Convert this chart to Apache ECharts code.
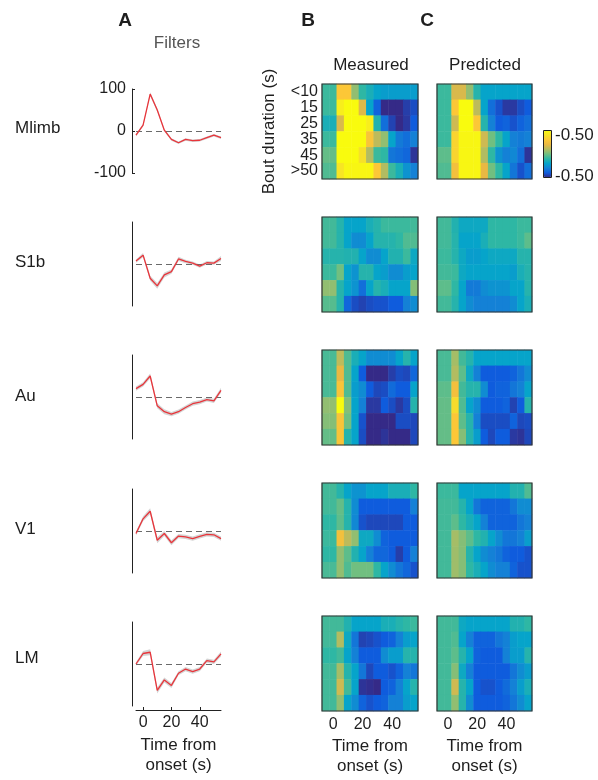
<!DOCTYPE html>
<html><head><meta charset="utf-8">
<script src="https://cdn.jsdelivr.net/npm/echarts@6/dist/echarts.min.js"></script>
<style>html,body{margin:0;padding:0;background:#fff}#c{width:598px;height:780px}</style>
</head><body><div id="c"></div>
<script>
// ---------------- DATA ----------------
const regions = ['Mlimb', 'S1b', 'Au', 'V1', 'LM'];
const filterTimes = ['-5', '0', '5', '10', '15', '20', '25', '30', '35', '40', '45', '50', '55'];
const timeTicks = [0, 20, 40];
const boutLabels = ['<10', '15', '25', '35', '45', '>50'];
const binLabels = ['-5', '0', '5', '10', '15', '20', '25', '30', '35', '40', '45', '50', '55'];
const colorbarLabels = ['-0.50', '-0.50'];

const mlimbFilter = [-10, 14, 88, 50, 2, -20, -28, -20, -23, -22, -16, -10, -16];
const s1bFilter   = [7, 21, -34, -52, -26, -18, 12, 6, 2, -5, 3, 2, 13];
const auFilter    = [20, 30, 50, -21, -35, -41, -35, -25, -16, -12, -6, -9, 16];
const v1Filter    = [-6, 29, 47, -22, -6, -28, -12, -14, -18, -13, -8, -9, -18];
const lmFilter    = [0, 25, 28, -63, -38, -51, -22, -12, -18, -12, 8, 5, 24];

const mlimbSem = [3, 3, 4, 4, 3, 3, 3, 3, 3, 3, 3, 3, 3];
const s1bSem   = [4, 5, 6, 7, 6, 5, 5, 4, 4, 4, 4, 4, 6];
const auSem    = [5, 5, 6, 6, 6, 5, 5, 5, 5, 5, 5, 5, 6];
const v1Sem    = [5, 6, 7, 7, 6, 6, 5, 5, 5, 5, 5, 5, 5];
const lmSem    = [4, 6, 7, 7, 6, 6, 5, 5, 5, 5, 5, 5, 6];

const mlimbMeasured = [
  [-0.08,-0.08,0.3,0.3,0.05,-0.1,-0.15,-0.2,-0.22,-0.22,-0.22,-0.22,-0.22],
  [-0.08,-0.08,0.45,0.5,0.5,0.18,-0.2,-0.38,-0.5,-0.5,-0.5,-0.46,-0.43],
  [-0.15,-0.15,0.17,0.5,0.5,0.5,0.45,-0.13,-0.35,-0.45,-0.5,-0.47,-0.4],
  [-0.08,-0.08,0.5,0.5,0.5,0.5,0.28,0.12,0.05,-0.2,-0.32,-0.35,-0.3],
  [-0.02,-0.02,0.5,0.5,0.5,0.4,0.1,-0.08,-0.1,-0.33,-0.35,-0.37,-0.48],
  [-0.05,-0.05,0.42,0.48,0.48,0.48,0.48,0.3,0.1,-0.08,-0.15,-0.25,-0.3]
];
const mlimbPredicted = [
  [-0.08,-0.08,0.17,0.17,0.05,-0.12,-0.2,-0.2,-0.2,-0.2,-0.2,-0.2,-0.2],
  [-0.08,-0.08,0.3,0.5,0.5,0.12,-0.2,-0.35,-0.42,-0.47,-0.47,-0.43,-0.4],
  [-0.08,-0.08,0.15,0.5,0.5,0.3,-0.12,-0.3,-0.4,-0.38,-0.42,-0.38,-0.35],
  [-0.08,-0.08,0.35,0.48,0.48,0.48,0.15,0.0,-0.1,-0.2,-0.3,-0.32,-0.3],
  [-0.03,-0.03,0.35,0.48,0.48,0.48,0.1,-0.1,-0.25,-0.3,-0.28,-0.35,-0.48],
  [-0.05,-0.05,0.25,0.48,0.48,0.48,0.2,0.0,-0.1,-0.2,-0.33,-0.42,-0.35]
];
const s1bMeasured = [
  [-0.07,-0.07,-0.12,-0.2,-0.2,-0.2,-0.15,-0.12,-0.08,-0.08,-0.08,-0.08,-0.07],
  [-0.07,-0.07,-0.12,-0.2,-0.27,-0.27,-0.2,-0.12,-0.12,-0.12,-0.1,-0.05,-0.05],
  [-0.12,-0.12,-0.12,-0.13,-0.13,-0.2,-0.27,-0.27,-0.2,-0.13,-0.13,-0.08,-0.18],
  [-0.08,-0.08,0.0,-0.2,-0.25,-0.12,-0.12,-0.2,-0.22,-0.27,-0.27,-0.22,-0.2],
  [0.05,0.05,-0.12,-0.2,-0.25,-0.35,-0.2,-0.12,-0.15,-0.2,-0.2,-0.2,0.03],
  [-0.04,-0.04,-0.12,-0.37,-0.43,-0.45,-0.43,-0.42,-0.42,-0.4,-0.4,-0.3,-0.27]
];
const s1bPredicted = [
  [-0.07,-0.07,-0.13,-0.18,-0.18,-0.18,-0.18,-0.1,-0.1,-0.1,-0.1,-0.08,-0.08],
  [-0.07,-0.07,-0.12,-0.2,-0.2,-0.2,-0.15,-0.1,-0.1,-0.1,-0.1,-0.08,-0.03],
  [-0.08,-0.08,-0.12,-0.18,-0.22,-0.22,-0.2,-0.18,-0.18,-0.18,-0.18,-0.12,-0.12],
  [-0.07,-0.07,-0.08,-0.18,-0.2,-0.2,-0.2,-0.2,-0.2,-0.2,-0.22,-0.15,-0.12],
  [-0.03,-0.03,-0.1,-0.2,-0.32,-0.32,-0.27,-0.25,-0.25,-0.25,-0.2,-0.2,-0.12],
  [-0.07,-0.07,-0.12,-0.2,-0.27,-0.3,-0.3,-0.3,-0.3,-0.3,-0.27,-0.2,-0.15]
];
const auMeasured = [
  [-0.06,-0.06,0.12,-0.05,-0.15,-0.2,-0.27,-0.27,-0.27,-0.27,-0.2,-0.12,-0.2],
  [-0.06,-0.06,0.2,-0.05,-0.2,-0.4,-0.5,-0.5,-0.5,-0.46,-0.43,-0.44,-0.37],
  [-0.06,-0.06,0.28,-0.05,-0.22,-0.27,-0.4,-0.44,-0.43,-0.36,-0.4,-0.4,-0.2],
  [0.05,0.05,0.5,0.03,-0.2,-0.3,-0.47,-0.47,-0.4,-0.43,-0.47,-0.43,-0.12],
  [0.03,0.03,0.28,0.0,-0.2,-0.42,-0.5,-0.5,-0.5,-0.5,-0.43,-0.43,-0.44],
  [-0.02,-0.02,0.28,-0.12,-0.2,-0.43,-0.5,-0.5,-0.48,-0.5,-0.5,-0.5,-0.44]
];
const auPredicted = [
  [-0.06,-0.06,0.08,-0.07,-0.12,-0.2,-0.2,-0.2,-0.2,-0.2,-0.2,-0.2,-0.2],
  [-0.06,-0.06,0.1,-0.03,-0.18,-0.3,-0.4,-0.4,-0.4,-0.4,-0.38,-0.33,-0.27],
  [-0.03,-0.03,0.25,-0.07,-0.12,-0.12,-0.27,-0.4,-0.38,-0.38,-0.33,-0.3,-0.2],
  [-0.02,-0.02,0.38,-0.05,-0.2,-0.27,-0.4,-0.4,-0.4,-0.38,-0.45,-0.4,-0.12],
  [-0.02,-0.02,0.3,-0.03,-0.12,-0.3,-0.43,-0.43,-0.43,-0.43,-0.38,-0.44,-0.43],
  [-0.02,-0.02,0.3,0.03,-0.12,-0.22,-0.4,-0.44,-0.4,-0.4,-0.47,-0.48,-0.44]
];
const v1Measured = [
  [-0.07,-0.07,-0.12,-0.2,-0.25,-0.25,-0.2,-0.2,-0.2,-0.15,-0.15,-0.15,-0.1],
  [-0.07,-0.07,-0.02,-0.12,-0.27,-0.4,-0.4,-0.4,-0.4,-0.4,-0.4,-0.4,-0.3],
  [-0.1,-0.1,-0.03,-0.12,-0.28,-0.42,-0.44,-0.44,-0.44,-0.44,-0.44,-0.4,-0.4],
  [-0.08,-0.08,0.25,0.12,0.05,-0.18,-0.18,-0.27,-0.38,-0.4,-0.4,-0.4,-0.4],
  [-0.1,-0.1,0.05,-0.03,-0.13,-0.2,-0.3,-0.37,-0.37,-0.4,-0.46,-0.4,-0.3],
  [-0.06,-0.06,0.05,-0.05,0.0,0.0,0.0,-0.1,-0.2,-0.27,-0.33,-0.37,-0.42]
];
const v1Predicted = [
  [-0.08,-0.08,-0.08,-0.2,-0.2,-0.2,-0.2,-0.2,-0.2,-0.2,-0.13,-0.13,-0.05],
  [-0.07,-0.07,-0.07,-0.12,-0.2,-0.33,-0.38,-0.38,-0.38,-0.38,-0.33,-0.27,-0.27],
  [-0.07,-0.07,-0.03,-0.1,-0.15,-0.2,-0.3,-0.38,-0.38,-0.38,-0.38,-0.33,-0.3],
  [-0.07,-0.07,0.08,0.03,-0.03,-0.1,-0.13,-0.2,-0.27,-0.33,-0.33,-0.3,-0.22],
  [-0.07,-0.07,0.07,0.03,-0.12,-0.2,-0.27,-0.3,-0.33,-0.38,-0.4,-0.4,-0.42],
  [-0.07,-0.07,0.07,0.03,-0.1,-0.15,-0.2,-0.27,-0.3,-0.3,-0.38,-0.42,-0.42]
];
const lmMeasured = [
  [-0.07,-0.07,-0.07,-0.13,-0.2,-0.2,-0.2,-0.2,-0.15,-0.15,-0.12,-0.1,-0.08],
  [-0.07,-0.07,0.1,-0.18,-0.33,-0.45,-0.44,-0.42,-0.4,-0.38,-0.3,-0.22,-0.2],
  [-0.1,-0.1,-0.07,-0.2,-0.3,-0.4,-0.4,-0.4,-0.27,-0.22,-0.22,-0.12,-0.12],
  [-0.07,-0.07,0.08,-0.12,-0.2,-0.33,-0.44,-0.4,-0.4,-0.42,-0.38,-0.3,-0.33],
  [-0.07,-0.07,0.15,-0.07,-0.2,-0.48,-0.49,-0.5,-0.4,-0.38,-0.3,-0.2,-0.12],
  [-0.07,-0.07,0.05,-0.2,-0.27,-0.38,-0.42,-0.4,-0.38,-0.3,-0.3,-0.22,-0.2]
];
const lmPredicted = [
  [-0.07,-0.07,-0.07,-0.18,-0.2,-0.2,-0.2,-0.2,-0.2,-0.2,-0.13,-0.13,-0.1],
  [-0.07,-0.07,-0.05,-0.2,-0.3,-0.38,-0.38,-0.38,-0.33,-0.3,-0.22,-0.2,-0.2],
  [-0.07,-0.07,-0.03,-0.12,-0.2,-0.38,-0.4,-0.4,-0.4,-0.3,-0.22,-0.22,-0.12],
  [-0.07,-0.07,0.03,-0.18,-0.3,-0.4,-0.4,-0.4,-0.4,-0.4,-0.33,-0.27,-0.22],
  [-0.07,-0.07,0.15,-0.12,-0.2,-0.4,-0.42,-0.42,-0.4,-0.36,-0.3,-0.22,-0.15],
  [-0.07,-0.07,0.05,-0.12,-0.27,-0.4,-0.4,-0.4,-0.4,-0.38,-0.33,-0.27,-0.2]
];

// ---------------- BUILD ----------------
const FONT = "'Liberation Sans', Arial, Helvetica, sans-serif";
const TXT = '#1e1e1e';
const parula = ['#352A87','#0F5CDD','#1481D6','#06A4CA','#2EB7A4','#71BF80','#B2BC61','#E9B843','#FCC737','#F6E029','#F9FB0E'];
const filters = [mlimbFilter, s1bFilter, auFilter, v1Filter, lmFilter];
const sems = [mlimbSem, s1bSem, auSem, v1Sem, lmSem];
const measured = [mlimbMeasured, s1bMeasured, auMeasured, v1Measured, lmMeasured];
const predicted = [mlimbPredicted, s1bPredicted, auPredicted, v1Predicted, lmPredicted];

const lineTops = [89, 222, 355, 489, 622];
const heatTops = [84, 217, 350, 483, 616];
const labelY = [128, 262, 396, 529, 658];

const grids = [], xAxes = [], yAxes = [], series = [], heatIdx = [];
const isTick = (idx, val) => timeTicks.indexOf(+val) >= 0;

for (let i = 0; i < 5; i++) {
  const first = i === 0, last = i === 4;
  const g = grids.length;
  grids.push({ left: 136, top: lineTops[i], width: 85, height: 84 });
  xAxes.push({
    type: 'category', gridIndex: g, data: filterTimes, boundaryGap: false, show: last, offset: 4,
    axisLine: { show: true, onZero: false, lineStyle: { color: '#222', width: 1 } },
    axisTick: { show: true, inside: true, length: 3, interval: isTick, alignWithLabel: true, lineStyle: { color: '#222' } },
    axisLabel: { interval: isTick, fontSize: 16, color: TXT, fontFamily: FONT, margin: 5 },
    splitLine: { show: false },
    name: last ? 'Time from\nonset (s)' : '', nameLocation: 'middle', nameGap: 25,
    nameTextStyle: { fontSize: 17, color: TXT, fontFamily: FONT, lineHeight: 20 }
  });
  yAxes.push({
    type: 'value', gridIndex: g, min: -100, max: 100, interval: 100, offset: 4,
    axisLine: { show: true, onZero: false, lineStyle: { color: '#222', width: 1 } },
    axisTick: { show: first, inside: true, length: 3, lineStyle: { color: '#222' } },
    axisLabel: { show: first, fontSize: 16, color: TXT, fontFamily: FONT, margin: 6 },
    splitLine: { show: false }
  });
  const f = filters[i], s = sems[i];
  series.push({
    type: 'line', xAxisIndex: g, yAxisIndex: g, stack: 'band' + i, stackStrategy: 'all',
    data: f.map((v, k) => v - s[k]), symbol: 'none', silent: true,
    lineStyle: { opacity: 0 }, z: 1
  });
  series.push({
    type: 'line', xAxisIndex: g, yAxisIndex: g, stack: 'band' + i, stackStrategy: 'all',
    data: s.map(v => 2 * v), symbol: 'none', silent: true,
    lineStyle: { opacity: 0 }, areaStyle: { color: '#d4d4d4', opacity: 1 }, z: 1
  });
  series.push({
    type: 'line', xAxisIndex: g, yAxisIndex: g, name: regions[i],
    data: f, symbol: 'none', silent: true,
    lineStyle: { color: '#e8353b', width: 1.3 }, z: 3,
    markLine: {
      silent: true, symbol: ['none', 'none'], label: { show: false },
      lineStyle: { color: '#6a6a6a', width: 1, type: [6, 4] },
      data: [{ yAxis: 0 }], z: 2
    }
  });

  [[322, 96, measured[i]], [437, 95, predicted[i]]].forEach(([left, w, mat], j) => {
    const hg = grids.length;
    const topLeft = first && j === 0;
    grids.push({ left: left, top: heatTops[i], width: w, height: 95, show: true, z: 10,
      borderColor: '#333', borderWidth: 1.2, backgroundColor: 'rgba(0,0,0,0)' });
    xAxes.push({
      type: 'category', gridIndex: hg, data: binLabels, show: last,
      axisLine: { show: false, onZero: false },
      axisTick: { show: true, inside: true, length: 3, alignWithLabel: true, interval: isTick, lineStyle: { color: '#333' } },
      axisLabel: { interval: isTick, fontSize: 16, color: TXT, fontFamily: FONT, margin: 6 },
      name: last ? 'Time from\nonset (s)' : '', nameLocation: 'middle', nameGap: 25,
      nameTextStyle: { fontSize: 17, color: TXT, fontFamily: FONT, lineHeight: 20 }
    });
    yAxes.push({
      type: 'category', gridIndex: hg, data: boutLabels, inverse: true,
      axisLine: { show: false, onZero: false },
      axisTick: { show: true, inside: true, length: 2, alignWithLabel: true, interval: 0, lineStyle: { color: '#333' } },
      axisLabel: { show: topLeft, interval: 0, fontSize: 16, color: TXT, fontFamily: FONT, margin: 4 },
      name: topLeft ? 'Bout duration (s)' : '', nameLocation: 'middle', nameGap: 44, nameRotate: 90,
      nameTextStyle: { fontSize: 17, color: TXT, fontFamily: FONT }
    });
    const data = [];
    mat.forEach((row, r) => row.forEach((v, c) => data.push([c, r, v])));
    heatIdx.push(series.length);
    series.push({ type: 'heatmap', xAxisIndex: hg, yAxisIndex: hg, data: data, silent: true,
      itemStyle: { borderWidth: 0 }, emphasis: { disabled: true } });
  });
}

const txt = (text, x, y, opts) => Object.assign({
  type: 'text', x: x, y: y, silent: true,
  style: Object.assign({ text: text, fill: TXT, font: '17px ' + FONT, align: 'center', verticalAlign: 'middle' }, opts || {})
});
const graphics = [
  txt('A', 125, 21, { font: 'bold 19px ' + FONT }),
  txt('B', 308, 21, { font: 'bold 19px ' + FONT }),
  txt('C', 427, 21, { font: 'bold 19px ' + FONT }),
  txt('Filters', 177, 43, { fill: '#555' }),
  txt('Measured', 371, 65),
  txt('Predicted', 485, 65),
  txt(colorbarLabels[0], 555, 135, { align: 'left' }),
  txt(colorbarLabels[1], 555, 176, { align: 'left' }),
  { type: 'rect', silent: true, z: 100, shape: { x: 543.5, y: 130.5, width: 8, height: 47 },
    style: { fill: 'none', stroke: '#222', lineWidth: 1 } }
];
regions.forEach((r, i) => graphics.push(txt(r, 15, labelY[i], { align: 'left' })));

const chart = echarts.init(document.getElementById('c'), null, { renderer: 'canvas' });
chart.setOption({
  animation: false,
  backgroundColor: '#fff',
  textStyle: { fontFamily: FONT },
  grid: grids, xAxis: xAxes, yAxis: yAxes, series: series,
  visualMap: {
    type: 'continuous', min: -0.5, max: 0.5, seriesIndex: heatIdx, calculable: false,
    orient: 'vertical', left: 543.5, top: 130.5, itemWidth: 8, itemHeight: 47, padding: 0,
    text: null, inRange: { color: parula }, hoverLink: false
  },
  graphic: graphics
});
</script></body></html>
